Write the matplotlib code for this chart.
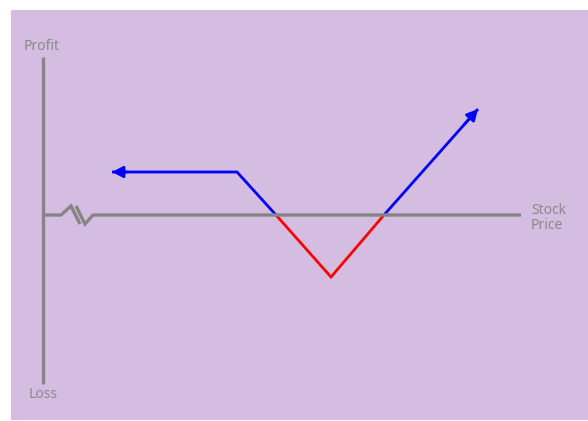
import matplotlib
matplotlib.use("Agg")
import matplotlib.pyplot as plt
from matplotlib.patches import FancyArrowPatch, Rectangle

# ---- data (stock price offset vs profit; same units on both axes) ----
flat_price = [69, 194]          # flat profit leg (arrow points left)
flat_profit = [43, 43]
down_price = [194, 233]         # falling leg down to break-even
down_profit = [43, 0]
loss_price = [233, 288, 341]    # loss region (red V)
loss_profit = [0, -62, 0]
up_price = [341, 435]           # rising leg (arrow points up-right)
up_profit = [0, 106]

axis_profit_top = 158
axis_profit_bottom = -169
axis_price_end = 478
break_a_price = [0, 18, 28, 37]
break_a_profit = [0, 0, 9, -9]
break_b_price = [33, 42, 50, axis_price_end]
break_b_profit = [9, -9, 0, 0]

label_profit = "Profit"
label_loss = "Loss"
label_price = "Stock\nPrice"

# ---- styles ----
BG = "#d5bde1"
GRAY = "#858585"
TXT = "#8a8a8a"
BLUE = "#0000ff"
RED = "#ff0000"
plt.rcParams['font.family'] = ['Noto Sans', 'DejaVu Sans']

fig = plt.figure(figsize=(5.88, 4.21), dpi=100)
fig.patch.set_facecolor("white")
ax = fig.add_axes([0, 0, 1, 1])
ax.set_xlim(-43, 545)
ax.set_ylim(-206, 215)
ax.axis("off")
ax.add_patch(Rectangle((11 / 588, 1 / 421), 577 / 588, 410 / 421,
                       transform=ax.transAxes, facecolor=BG,
                       edgecolor="none", zorder=0))

lw_axis = 2.4
lw_line = 2.0

# axes
ax.plot([0, 0], [axis_profit_bottom, axis_profit_top], color=GRAY, lw=lw_axis,
        solid_capstyle="butt", zorder=5)
ax.plot(break_a_price, break_a_profit, color=GRAY, lw=lw_axis,
        solid_capstyle="butt", solid_joinstyle="miter", zorder=5)
ax.plot(break_b_price, break_b_profit, color=GRAY, lw=lw_axis,
        solid_capstyle="butt", solid_joinstyle="miter", zorder=5)

# payoff
ax.plot(flat_price + down_price[1:], flat_profit + down_profit[1:], color=BLUE,
        lw=lw_line, solid_joinstyle="miter", solid_capstyle="butt", zorder=3)
ax.plot(loss_price, loss_profit, color=RED, lw=lw_line,
        solid_joinstyle="miter", solid_capstyle="butt", zorder=3)
ax.plot(up_price, up_profit, color=BLUE, lw=lw_line,
        solid_capstyle="butt", zorder=3)

style = "-|>,head_length=6.5,head_width=3.4"
# left arrow head
ax.add_patch(FancyArrowPatch((flat_price[0] + 15, flat_profit[0]),
                             (flat_price[0], flat_profit[0]),
                             arrowstyle=style, mutation_scale=1, color=BLUE,
                             lw=lw_line, shrinkA=0, shrinkB=0, zorder=4))
# up-right arrow head
dx = up_price[1] - up_price[0]
dy = up_profit[1] - up_profit[0]
f = 0.85
ax.add_patch(FancyArrowPatch((up_price[0] + f * dx, up_profit[0] + f * dy),
                             (up_price[1], up_profit[1]),
                             arrowstyle=style, mutation_scale=1, color=BLUE,
                             lw=lw_line, shrinkA=0, shrinkB=0, zorder=4))

# labels
ax.text(-1, 168, label_profit, color=TXT, fontsize=10, ha="center", va="center")
ax.text(0, -180, label_loss, color=TXT, fontsize=10, ha="center", va="center")
ax.text(488, -3, label_price, color=TXT, fontsize=10, ha="left", va="center",
        linespacing=0.92)

fig.savefig("out.png", dpi=100, facecolor=fig.get_facecolor())
